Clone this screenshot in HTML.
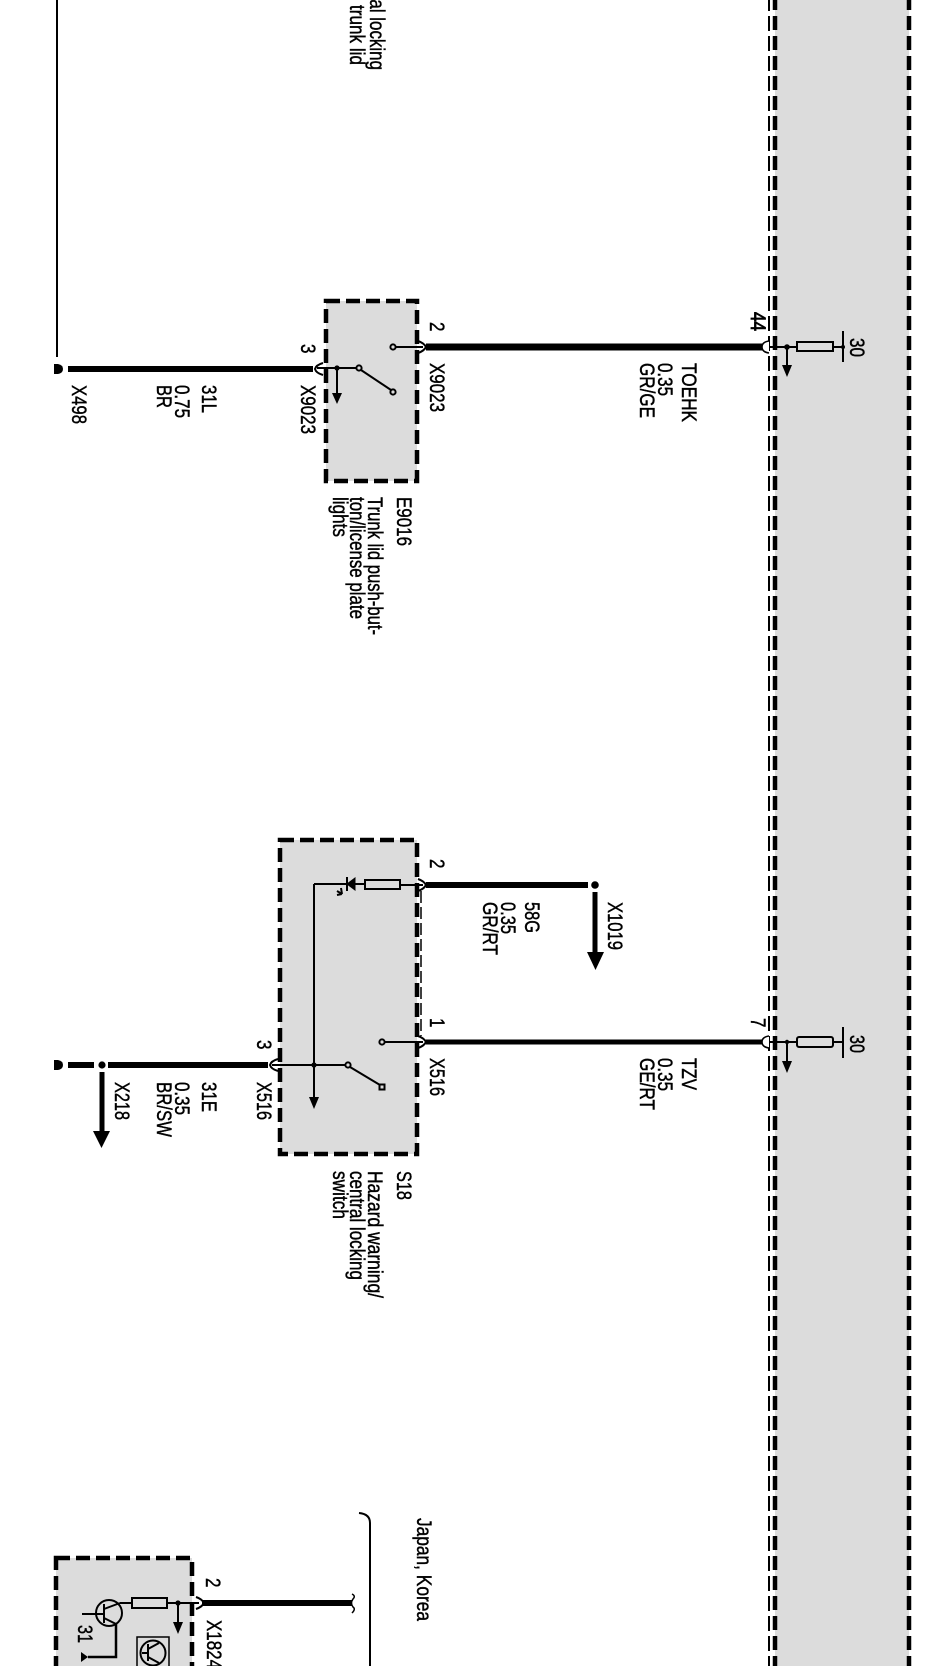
<!DOCTYPE html>
<html><head><meta charset="utf-8">
<style>
html,body{margin:0;padding:0;background:#fff;width:945px;height:1666px;overflow:hidden}
svg{display:block;filter:blur(.35px)}
text{font-family:"Liberation Sans",Arial,sans-serif;font-size:17px;fill:#000;stroke:#000;stroke-width:.35px}
.d{fill:none;stroke:#000;stroke-width:4.5;stroke-dasharray:14 6}
.t{fill:none;stroke:#000;stroke-width:2;stroke-dasharray:15 5}
.l{fill:none;stroke:#000;stroke-width:2}
.c{fill:none;stroke:#000;stroke-width:2}
.o{fill:#dcdcdc;stroke:#000;stroke-width:2}
.r{fill:#dcdcdc;stroke:#000;stroke-width:2}
</style></head><body>
<svg xmlns="http://www.w3.org/2000/svg" width="945" height="1666" viewBox="0 0 945 1666">
<!-- big right module -->
<rect x="775" y="0" width="134" height="1666" fill="#dcdcdc"/>
<line class="d" x1="775" y1="-4" x2="775" y2="1666"/>
<line class="d" x1="909" y1="-4" x2="909" y2="1666"/>
<line class="t" x1="769" y1="-4" x2="769" y2="1666"/>

<!-- E9016 box -->
<rect x="326" y="301" width="91" height="180" fill="#dcdcdc"/>
<rect class="d" x="326" y="301" width="91" height="180"/>
<!-- S18 box -->
<rect x="280" y="840" width="137" height="314" fill="#dcdcdc"/>
<rect class="d" x="280" y="840" width="137" height="314"/>
<line x1="421" y1="891" x2="421" y2="1036" stroke="#000" stroke-width="1.5" stroke-dasharray="12 4"/>
<!-- bottom box -->
<rect x="56" y="1558" width="136" height="120" fill="#dcdcdc"/>
<rect class="d" x="56" y="1558" width="136" height="130"/>

<!-- thin vertical top-left -->
<line x1="57" y1="0" x2="57" y2="357" stroke="#000" stroke-width="2"/>

<!-- X498 wire -->
<path d="M54 364h4q5 1 5 5t-5 5h-4z" fill="#000"/>
<line x1="68" y1="369" x2="313" y2="369" stroke="#000" stroke-width="6"/>
<path class="c" d="M323 363q-7 2-8 6 1 4 8 6"/>
<line class="l" x1="317" y1="368" x2="357" y2="368"/>
<circle cx="337" cy="368" r="2.6" fill="#000"/>
<line class="l" x1="337" y1="368" x2="337" y2="395"/>
<path d="M332 393h10l-5 11z" fill="#000"/>
<circle class="o" cx="359" cy="368" r="2.6"/>
<line class="l" x1="361" y1="370" x2="391" y2="390"/>
<circle class="o" cx="393" cy="392" r="2.6"/>
<circle class="o" cx="393" cy="347" r="2.6"/>
<line class="l" x1="396" y1="347" x2="423" y2="347"/>

<!-- TOEHK wire -->
<path class="c" d="M418 341q6 2 8 6-2 4-8 6"/>
<line x1="426" y1="347" x2="763" y2="347" stroke="#000" stroke-width="7"/>
<path d="M769 341q-7 1-7 6t7 6" fill="#fff" stroke="#000" stroke-width="1.6"/>
<line class="l" x1="770" y1="347" x2="797" y2="347"/>
<circle cx="787" cy="347" r="2.8" fill="#000"/>
<line class="l" x1="787" y1="347" x2="787" y2="367"/>
<path d="M782 365h10l-5 12z" fill="#000"/>
<rect class="r" x="797" y="342" width="36" height="9"/>
<line class="l" x1="833" y1="347" x2="843" y2="347"/>
<line class="l" x1="843" y1="331" x2="843" y2="362"/>
<circle cx="843" cy="347" r="2" fill="#000"/>

<!-- 58G wire -->
<path class="c" d="M418 879q6 2 8 6-2 4-8 6"/>
<line x1="426" y1="885" x2="588" y2="885" stroke="#000" stroke-width="6"/>
<circle cx="595" cy="885" r="3.8" fill="#000"/>
<line x1="595" y1="892" x2="595" y2="954" stroke="#000" stroke-width="5"/>
<path d="M587 952h17l-8.500 18z" fill="#000"/>
<rect class="r" x="365" y="880" width="35" height="9"/>
<line class="l" x1="400" y1="885" x2="423" y2="885"/>
<line class="l" x1="314" y1="884" x2="347" y2="884"/>
<path d="M347 884l8-6v12z" fill="#000" stroke="#000" stroke-width="1"/>
<line class="l" x1="347" y1="877" x2="347" y2="891"/>
<line x1="355" y1="884" x2="365" y2="884" stroke="#000" stroke-width="2"/>
<path d="M337 891l5 3M337 895l5-1M341 888l1 6" stroke="#000" stroke-width="2" fill="none"/>

<!-- TZV wire -->
<path class="c" d="M418 1036q6 2 8 6-2 4-8 6"/>
<line x1="426" y1="1042" x2="763" y2="1042" stroke="#000" stroke-width="5"/>
<path d="M769 1036q-7 1-7 6t7 6" fill="#fff" stroke="#000" stroke-width="1.6"/>
<line class="l" x1="770" y1="1042" x2="797" y2="1042"/>
<circle cx="787" cy="1042" r="2.2" fill="#000"/>
<line class="l" x1="787" y1="1042" x2="787" y2="1063"/>
<path d="M782 1061h10l-5 12z" fill="#000"/>
<rect class="r" x="797" y="1037" width="36" height="10" rx="2"/>
<line class="l" x1="833" y1="1042" x2="843" y2="1042"/>
<line class="l" x1="843" y1="1027" x2="843" y2="1058"/>
<circle cx="382" cy="1042" r="2.6" class="o"/>
<line class="l" x1="385" y1="1042" x2="423" y2="1042"/>

<!-- 31E wire -->
<path d="M54 1060h4q5 1 5 5t-5 5h-4z" fill="#000"/>
<line x1="68" y1="1065" x2="94" y2="1065" stroke="#000" stroke-width="6"/>
<circle cx="102" cy="1065" r="3.6" fill="#000"/>
<line x1="108" y1="1065" x2="268" y2="1065" stroke="#000" stroke-width="6"/>
<line x1="102" y1="1072" x2="102" y2="1133" stroke="#000" stroke-width="5"/>
<path d="M93 1131h17l-8.500 17z" fill="#000"/>
<path class="c" d="M278 1059q-7 2-8 6 1 4 8 6"/>
<line class="l" x1="272" y1="1065" x2="346" y2="1065"/>
<circle cx="314" cy="1065" r="2.6" fill="#000"/>
<line class="l" x1="314" y1="884" x2="314" y2="1099"/>
<path d="M309 1097h10l-5 12z" fill="#000"/>
<circle class="o" cx="348" cy="1065" r="2.6"/>
<line class="l" x1="350" y1="1067" x2="380" y2="1085"/>
<rect class="o" x="379.500" y="1084.500" width="5" height="5"/>

<!-- Bracket -->
<path d="M359 1513q11 1 11 10V1666" fill="none" stroke="#000" stroke-width="2"/>
<!-- bottom wire -->
<line x1="202" y1="1603" x2="352" y2="1603" stroke="#000" stroke-width="6"/>
<path d="M352 1594q4 2 1 5-3 4 0 8 3 2 -1 6" fill="#fff" stroke="#000" stroke-width="1.5"/>
<path class="c" d="M196 1597q6 2 8 6-2 4-8 6"/>
<line class="l" x1="167" y1="1603" x2="199" y2="1603"/>
<rect class="r" x="132" y="1598" width="35" height="10"/>
<circle cx="178" cy="1603" r="2.6" fill="#000"/>
<line class="l" x1="178" y1="1603" x2="178" y2="1624"/>
<path d="M173 1622h10l-5 12z" fill="#000"/>
<line class="l" x1="120" y1="1603" x2="132" y2="1603"/>
<circle cx="109" cy="1613" r="13" fill="none" stroke="#000" stroke-width="2"/>
<line class="l" x1="82" y1="1614" x2="104" y2="1614"/>
<line x1="104" y1="1604" x2="104" y2="1623" stroke="#000" stroke-width="2"/>
<path d="M104 1609l16-6M104 1618l12 6" fill="none" stroke="#000" stroke-width="2"/>
<path d="M116 1624V1657H88" fill="none" stroke="#000" stroke-width="2.500"/>
<path d="M81 1652l7 5-7 5z" fill="#000"/>
<rect x="137" y="1637" width="32" height="40" fill="none" stroke="#000" stroke-width="1.500"/>
<circle cx="153" cy="1653" r="12.500" fill="none" stroke="#000" stroke-width="2"/>
<path d="M142 1653h6M148 1644v17M148 1649l11-6M148 1657l11 6" fill="none" stroke="#000" stroke-width="2"/>

<!-- Labels -->
<text transform="translate(370,-42) rotate(90) scale(1,1.27)" textLength="112" lengthAdjust="spacingAndGlyphs">Central locking</text>
<text transform="translate(350,5) rotate(90) scale(1,1.27)" textLength="60" lengthAdjust="spacingAndGlyphs">trunk lid</text>

<text transform="translate(72,385) rotate(90) scale(1,1.27)" textLength="39" lengthAdjust="spacingAndGlyphs">X498</text>
<text transform="translate(202,385) rotate(90) scale(1,1.27)" textLength="28" lengthAdjust="spacingAndGlyphs">31L</text>
<text transform="translate(175,385) rotate(90) scale(1,1.27)" textLength="33" lengthAdjust="spacingAndGlyphs">0.75</text>
<text transform="translate(157,385) rotate(90) scale(1,1.27)" textLength="23" lengthAdjust="spacingAndGlyphs">BR</text>
<text transform="translate(301,385) rotate(90) scale(1,1.27)" textLength="49" lengthAdjust="spacingAndGlyphs">X9023</text>
<text transform="translate(301,344) rotate(90) scale(1,1.27)">3</text>
<text transform="translate(430,322) rotate(90) scale(1,1.27)">2</text>
<text transform="translate(430,363) rotate(90) scale(1,1.27)" textLength="49" lengthAdjust="spacingAndGlyphs">X9023</text>
<text transform="translate(397,497) rotate(90) scale(1,1.27)" textLength="49" lengthAdjust="spacingAndGlyphs">E9016</text>
<text transform="translate(368,497) rotate(90) scale(1,1.27)" textLength="138" lengthAdjust="spacingAndGlyphs">Trunk lid push-but-</text>
<text transform="translate(350,497) rotate(90) scale(1,1.27)" textLength="122" lengthAdjust="spacingAndGlyphs">ton/license plate</text>
<text transform="translate(333,497) rotate(90) scale(1,1.27)" textLength="40" lengthAdjust="spacingAndGlyphs">lights</text>

<text transform="translate(682,363) rotate(90) scale(1,1.27)" textLength="59" lengthAdjust="spacingAndGlyphs">TOEHK</text>
<text transform="translate(658,363) rotate(90) scale(1,1.27)" textLength="33" lengthAdjust="spacingAndGlyphs">0.35</text>
<text transform="translate(640,363) rotate(90) scale(1,1.27)" textLength="55" lengthAdjust="spacingAndGlyphs">GR/GE</text>
<text transform="translate(751,312) rotate(90) scale(1,1.27)" textLength="19" lengthAdjust="spacingAndGlyphs" style="stroke-width:.7px">44</text>
<text transform="translate(850,338) rotate(90) scale(1,1.27)" textLength="19" lengthAdjust="spacingAndGlyphs">30</text>

<text transform="translate(608,902) rotate(90) scale(1,1.27)" textLength="48" lengthAdjust="spacingAndGlyphs">X1019</text>
<text transform="translate(525,902) rotate(90) scale(1,1.27)" textLength="31" lengthAdjust="spacingAndGlyphs">58G</text>
<text transform="translate(501,902) rotate(90) scale(1,1.27)" textLength="32" lengthAdjust="spacingAndGlyphs">0.35</text>
<text transform="translate(483,902) rotate(90) scale(1,1.27)" textLength="53" lengthAdjust="spacingAndGlyphs">GR/RT</text>

<text transform="translate(682,1058) rotate(90) scale(1,1.27)" textLength="32" lengthAdjust="spacingAndGlyphs">TZV</text>
<text transform="translate(658,1058) rotate(90) scale(1,1.27)" textLength="33" lengthAdjust="spacingAndGlyphs">0.35</text>
<text transform="translate(640,1058) rotate(90) scale(1,1.27)" textLength="52" lengthAdjust="spacingAndGlyphs">GE/RT</text>
<text transform="translate(751,1018) rotate(90) scale(1,1.27)">7</text>
<text transform="translate(850,1035) rotate(90) scale(1,1.27)" textLength="18" lengthAdjust="spacingAndGlyphs">30</text>

<text transform="translate(115,1082) rotate(90) scale(1,1.27)" textLength="38" lengthAdjust="spacingAndGlyphs">X218</text>
<text transform="translate(202,1082) rotate(90) scale(1,1.27)" textLength="30" lengthAdjust="spacingAndGlyphs">31E</text>
<text transform="translate(175,1082) rotate(90) scale(1,1.27)" textLength="33" lengthAdjust="spacingAndGlyphs">0.35</text>
<text transform="translate(157,1082) rotate(90) scale(1,1.27)" textLength="55" lengthAdjust="spacingAndGlyphs">BR/SW</text>
<text transform="translate(257,1082) rotate(90) scale(1,1.27)" textLength="38" lengthAdjust="spacingAndGlyphs">X516</text>
<text transform="translate(257,1040) rotate(90) scale(1,1.27)">3</text>
<text transform="translate(430,859) rotate(90) scale(1,1.27)">2</text>
<text transform="translate(430,1018) rotate(90) scale(1,1.27)">1</text>
<text transform="translate(430,1058) rotate(90) scale(1,1.27)" textLength="38" lengthAdjust="spacingAndGlyphs">X516</text>
<text transform="translate(397,1171) rotate(90) scale(1,1.27)" textLength="29" lengthAdjust="spacingAndGlyphs">S18</text>
<text transform="translate(368,1171) rotate(90) scale(1,1.27)" textLength="127" lengthAdjust="spacingAndGlyphs">Hazard warning/</text>
<text transform="translate(350,1171) rotate(90) scale(1,1.27)" textLength="109" lengthAdjust="spacingAndGlyphs">central locking</text>
<text transform="translate(333,1171) rotate(90) scale(1,1.27)" textLength="48" lengthAdjust="spacingAndGlyphs">switch</text>

<text transform="translate(417,1518) rotate(90) scale(1,1.27)" textLength="103" lengthAdjust="spacingAndGlyphs">Japan, Korea</text>
<text transform="translate(206,1578) rotate(90) scale(1,1.27)">2</text>
<text transform="translate(207,1620) rotate(90) scale(1,1.27)" textLength="49" lengthAdjust="spacingAndGlyphs">X1824</text>
<text transform="translate(78,1625) rotate(90) scale(1,1.27)" textLength="18" lengthAdjust="spacingAndGlyphs">31</text>
</svg>
</body></html>
